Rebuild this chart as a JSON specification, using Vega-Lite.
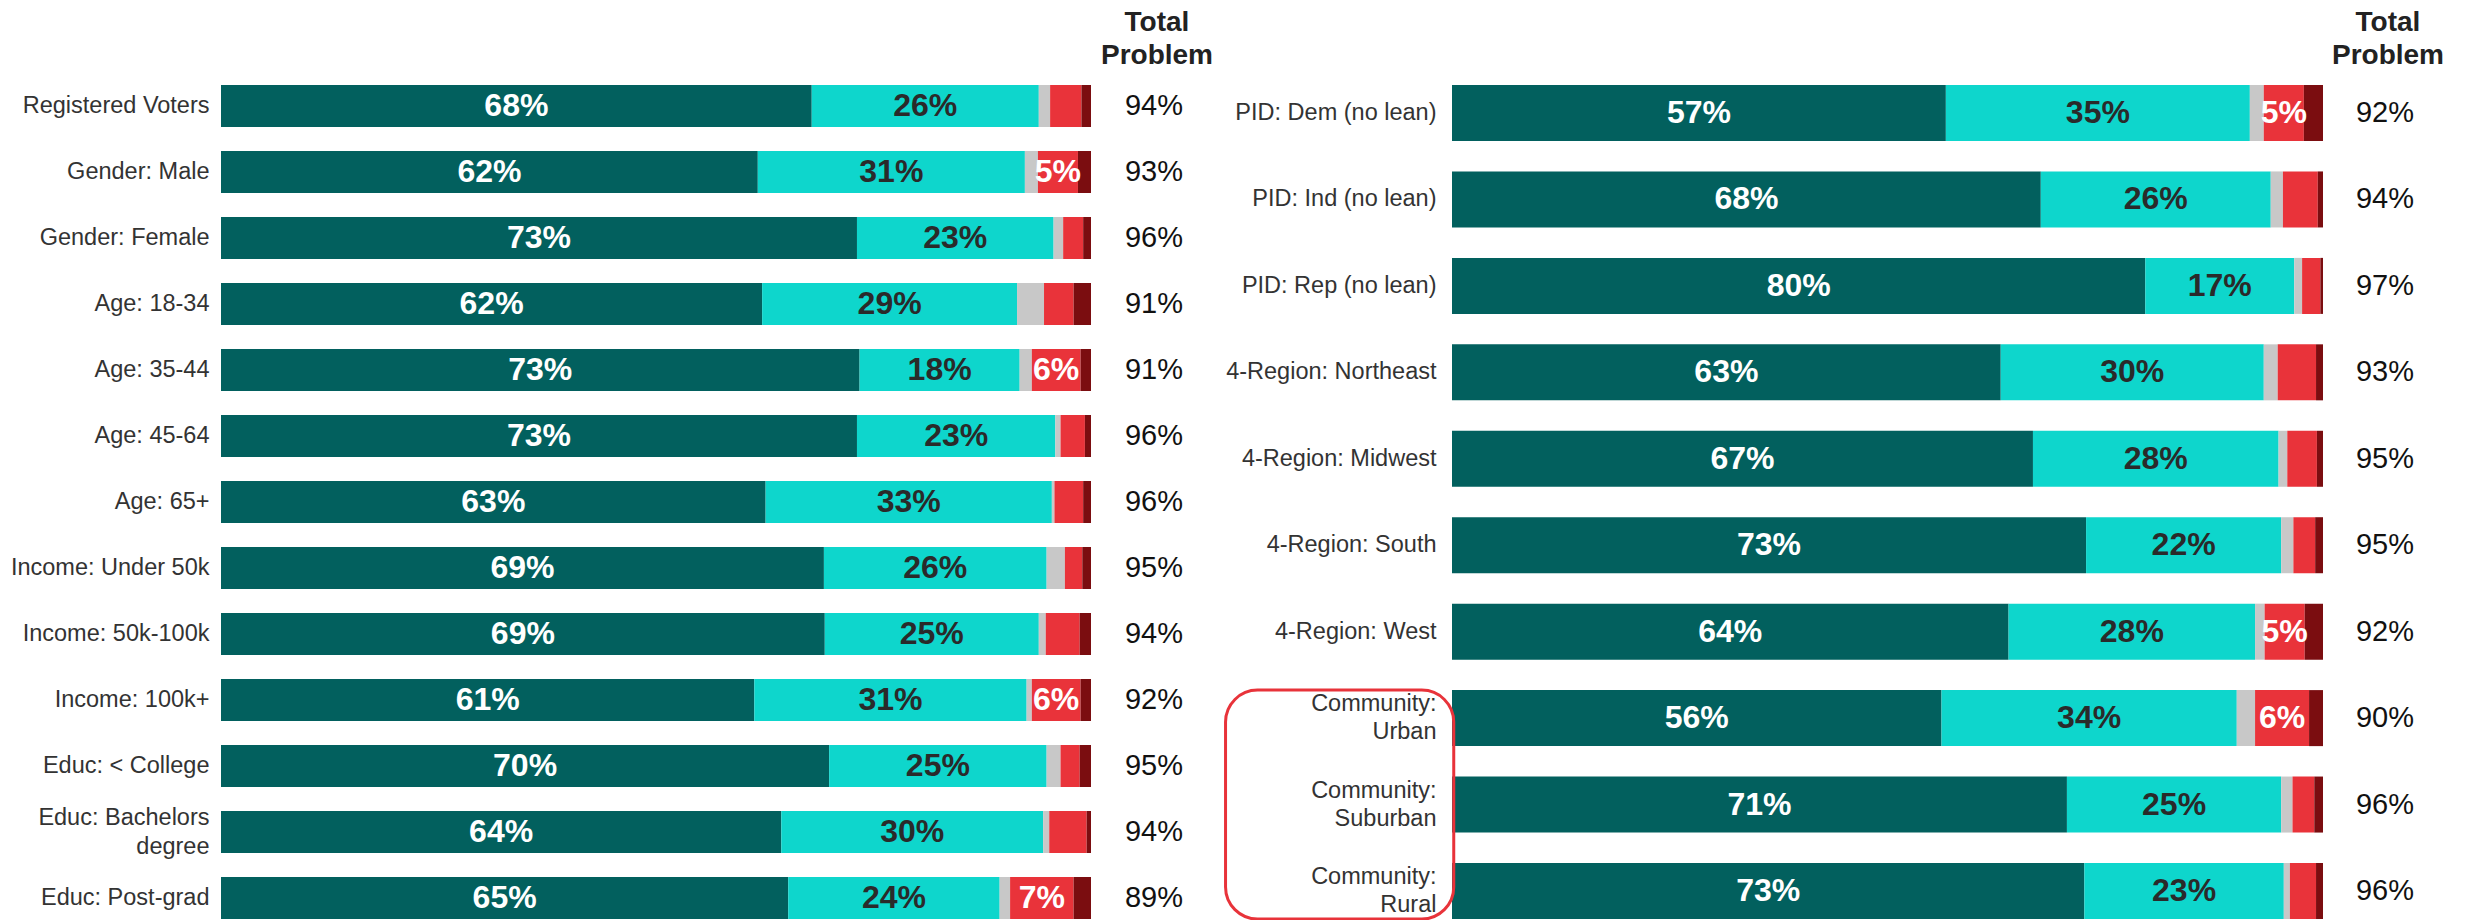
{
  "$schema": "https://vega.github.io/schema/vega-lite/v6.json",
  "padding": {"left": 10, "top": 9, "right": 0, "bottom": 0},
  "background": "white",
  "bounds": "flush",
  "spacing": 361,
  "config": {"view": {"stroke": null}, "font": "Liberation Sans", "axis": {"labelFont": "Liberation Sans"}},
  "datasets": {
    "left": [
      {"group": "Registered Voters", "Major problem": 67.9, "Minor problem": 26.1, "No opinion": 1.3, "Not a big problem": 3.6, "Not a problem at all": 1.1, "total": 94},
      {"group": "Gender: Male", "Major problem": 61.7, "Minor problem": 30.7, "No opinion": 1.5, "Not a big problem": 4.6, "Not a problem at all": 1.5, "total": 93},
      {"group": "Gender: Female", "Major problem": 73.1, "Minor problem": 22.6, "No opinion": 1.1, "Not a big problem": 2.3, "Not a problem at all": 0.9, "total": 96},
      {"group": "Age: 18-34", "Major problem": 62.2, "Minor problem": 29.3, "No opinion": 3.1, "Not a big problem": 3.4, "Not a problem at all": 2.0, "total": 91},
      {"group": "Age: 35-44", "Major problem": 73.4, "Minor problem": 18.4, "No opinion": 1.4, "Not a big problem": 5.6, "Not a problem at all": 1.2, "total": 91},
      {"group": "Age: 45-64", "Major problem": 73.1, "Minor problem": 22.8, "No opinion": 0.6, "Not a big problem": 2.8, "Not a problem at all": 0.7, "total": 96},
      {"group": "Age: 65+", "Major problem": 62.6, "Minor problem": 32.9, "No opinion": 0.3, "Not a big problem": 3.3, "Not a problem at all": 0.9, "total": 96},
      {"group": "Income: Under 50k", "Major problem": 69.3, "Minor problem": 25.6, "No opinion": 2.1, "Not a big problem": 2.0, "Not a problem at all": 1.0, "total": 95},
      {"group": "Income: 50k-100k", "Major problem": 69.4, "Minor problem": 24.6, "No opinion": 0.8, "Not a big problem": 3.9, "Not a problem at all": 1.3, "total": 94},
      {"group": "Income: 100k+", "Major problem": 61.3, "Minor problem": 31.3, "No opinion": 0.6, "Not a big problem": 5.6, "Not a problem at all": 1.2, "total": 92},
      {"group": "Educ: < College", "Major problem": 69.9, "Minor problem": 25.0, "No opinion": 1.6, "Not a big problem": 2.2, "Not a problem at all": 1.3, "total": 95},
      {"group": "Educ: Bachelors degree", "Major problem": 64.4, "Minor problem": 30.1, "No opinion": 0.7, "Not a big problem": 4.3, "Not a problem at all": 0.5, "total": 94},
      {"group": "Educ: Post-grad", "Major problem": 65.2, "Minor problem": 24.3, "No opinion": 1.2, "Not a big problem": 7.3, "Not a problem at all": 2.0, "total": 89}
    ],
    "right": [
      {"group": "PID: Dem (no lean)", "Major problem": 56.7, "Minor problem": 34.9, "No opinion": 1.6, "Not a big problem": 4.6, "Not a problem at all": 2.2, "total": 92},
      {"group": "PID: Ind (no lean)", "Major problem": 67.6, "Minor problem": 26.4, "No opinion": 1.4, "Not a big problem": 4.0, "Not a problem at all": 0.6, "total": 94},
      {"group": "PID: Rep (no lean)", "Major problem": 79.6, "Minor problem": 17.1, "No opinion": 0.9, "Not a big problem": 2.1, "Not a problem at all": 0.3, "total": 97},
      {"group": "4-Region: Northeast", "Major problem": 63.0, "Minor problem": 30.2, "No opinion": 1.6, "Not a big problem": 4.4, "Not a problem at all": 0.8, "total": 93},
      {"group": "4-Region: Midwest", "Major problem": 66.7, "Minor problem": 28.2, "No opinion": 1.0, "Not a big problem": 3.4, "Not a problem at all": 0.7, "total": 95},
      {"group": "4-Region: South", "Major problem": 72.8, "Minor problem": 22.4, "No opinion": 1.4, "Not a big problem": 2.5, "Not a problem at all": 0.9, "total": 95},
      {"group": "4-Region: West", "Major problem": 63.9, "Minor problem": 28.3, "No opinion": 1.1, "Not a big problem": 4.6, "Not a problem at all": 2.1, "total": 92},
      {"group": "Community: Urban", "Major problem": 56.2, "Minor problem": 33.9, "No opinion": 2.1, "Not a big problem": 6.2, "Not a problem at all": 1.6, "total": 90},
      {"group": "Community: Suburban", "Major problem": 70.6, "Minor problem": 24.6, "No opinion": 1.3, "Not a big problem": 2.5, "Not a problem at all": 1.0, "total": 96},
      {"group": "Community: Rural", "Major problem": 72.6, "Minor problem": 22.9, "No opinion": 0.7, "Not a big problem": 3.0, "Not a problem at all": 0.8, "total": 96}
    ]
  },
  "hconcat": [
    {
      "width": 870,
      "height": 834,
      "data": {"name": "left"},
      "title": {"text": ["Total", "Problem"], "anchor": "end", "align": "center", "dx": 66, "fontSize": 28, "fontWeight": "bold", "color": "#222222", "lineHeight": 33, "offset": 15, "frame": "group", "font": "Liberation Sans"},
      "transform": [
        {"fold": ["Major problem", "Minor problem", "No opinion", "Not a big problem", "Not a problem at all"], "as": ["key", "value"]},
        {"stack": "value", "groupby": ["group"], "sort": [{"field": "key", "order": "ascending"}], "as": ["x0", "x1"]},
        {"calculate": "(datum.x0 + datum.x1) / 2", "as": "mid"},
        {"calculate": "format(datum.value, '.0f') + '%'", "as": "lbl"},
        {"calculate": "datum.total + '%'", "as": "tlbl"}
      ],
      "encoding": {
        "y": {"field": "group", "type": "nominal", "sort": null, "title": null,
          "scale": {"paddingInner": 0.3636, "paddingOuter": 0},
          "axis": {"ticks": false, "domain": false, "labelFontSize": 23.5, "labelColor": "#333333", "labelPadding": 12, "labelLimit": 500, "labelLineHeight": 29,
            "labelOffset": {"condition": {"test": "datum.value == 'Educ: Bachelors degree'", "value": -14}, "value": 0},
            "labelExpr": "datum.value == 'Educ: Bachelors degree' ? ['Educ: Bachelors', 'degree'] : datum.value"}}
      },
      "layer": [
        {
          "mark": {"type": "bar"},
          "encoding": {
            "x": {"field": "x0", "type": "quantitative", "scale": {"domain": [0, 100], "nice": false, "zero": false}, "axis": null},
            "x2": {"field": "x1"},
            "color": {"field": "key", "type": "nominal", "legend": null,
              "scale": {"domain": ["Major problem", "Minor problem", "No opinion", "Not a big problem", "Not a problem at all"], "range": ["#02605E", "#0ED6CC", "#C8C8C8", "#E9333A", "#7B0D10"]}}
          }
        },
        {
          "transform": [{"filter": "datum.key == 'Major problem' || datum.key == 'Minor problem' || (datum.key == 'Not a big problem' && datum.value >= 4.5)"}],
          "mark": {"type": "text", "fontSize": 32, "fontWeight": "bold", "font": "Liberation Sans"},
          "encoding": {
            "x": {"field": "mid", "type": "quantitative", "scale": {"domain": [0, 100]}},
            "text": {"field": "lbl"},
            "color": {"condition": {"test": "datum.key == 'Minor problem'", "value": "#2A2A2A"}, "value": "#FFFFFF"}
          }
        },
        {
          "transform": [{"filter": "datum.key == 'Major problem'"}],
          "mark": {"type": "text", "fontSize": 29, "dx": 63, "align": "center", "color": "#111111", "font": "Liberation Sans"},
          "encoding": {
            "x": {"datum": 100, "type": "quantitative", "scale": {"domain": [0, 100]}},
            "text": {"field": "tlbl"}
          }
        }
      ]
    },
    {
      "width": 871,
      "height": 834,
      "title": {"text": ["Total", "Problem"], "anchor": "end", "align": "center", "dx": 65, "fontSize": 28, "fontWeight": "bold", "color": "#222222", "lineHeight": 33, "offset": 15, "frame": "group", "font": "Liberation Sans"},
      "encoding": {
        "y": {"field": "group", "type": "nominal", "sort": null, "title": null,
          "scale": {"paddingInner": 0.352, "paddingOuter": 0},
          "axis": {"ticks": false, "domain": false, "labelFontSize": 23.5, "labelColor": "#333333", "labelPadding": 16, "labelLimit": 500, "labelLineHeight": 28,
            "labelOffset": {"condition": {"test": "indexof(datum.value, 'Community: ') == 0", "value": -14}, "value": 0},
            "labelExpr": "indexof(datum.value, 'Community: ') == 0 ? ['Community:', substring(datum.value, 11)] : datum.value"}}
      },
      "layer": [
        {
          "data": {"name": "right"},
          "transform": [
            {"fold": ["Major problem", "Minor problem", "No opinion", "Not a big problem", "Not a problem at all"], "as": ["key", "value"]},
            {"stack": "value", "groupby": ["group"], "sort": [{"field": "key", "order": "ascending"}], "as": ["x0", "x1"]},
            {"calculate": "(datum.x0 + datum.x1) / 2", "as": "mid"},
            {"calculate": "format(datum.value, '.0f') + '%'", "as": "lbl"},
            {"calculate": "datum.total + '%'", "as": "tlbl"}
          ],
          "layer": [
            {
              "mark": {"type": "bar"},
              "encoding": {
                "x": {"field": "x0", "type": "quantitative", "scale": {"domain": [0, 100], "nice": false, "zero": false}, "axis": null},
                "x2": {"field": "x1"},
                "color": {"field": "key", "type": "nominal", "legend": null,
                  "scale": {"domain": ["Major problem", "Minor problem", "No opinion", "Not a big problem", "Not a problem at all"], "range": ["#02605E", "#0ED6CC", "#C8C8C8", "#E9333A", "#7B0D10"]}}
              }
            },
            {
              "transform": [{"filter": "datum.key == 'Major problem' || datum.key == 'Minor problem' || (datum.key == 'Not a big problem' && datum.value >= 4.5)"}],
              "mark": {"type": "text", "fontSize": 32, "fontWeight": "bold", "font": "Liberation Sans"},
              "encoding": {
                "x": {"field": "mid", "type": "quantitative", "scale": {"domain": [0, 100]}},
                "text": {"field": "lbl"},
                "color": {"condition": {"test": "datum.key == 'Minor problem'", "value": "#2A2A2A"}, "value": "#FFFFFF"}
              }
            },
            {
              "transform": [{"filter": "datum.key == 'Major problem'"}],
              "mark": {"type": "text", "fontSize": 29, "dx": 62, "align": "center", "color": "#111111", "font": "Liberation Sans"},
              "encoding": {
                "x": {"datum": 100, "type": "quantitative", "scale": {"domain": [0, 100]}},
                "text": {"field": "tlbl"}
              }
            }
          ]
        },
        {
          "data": {"values": [{"from": "Community: Urban", "to": "Community: Rural", "left": -26, "right": 0.2}]},
          "mark": {"type": "rect", "filled": false, "stroke": "#E8333A", "strokeWidth": 3, "cornerRadius": 32},
          "encoding": {
            "y": {"field": "from", "type": "nominal", "bandPosition": 0},
            "y2": {"field": "to", "bandPosition": 1},
            "x": {"field": "left", "type": "quantitative", "scale": {"domain": [0, 100]}},
            "x2": {"field": "right"}
          }
        }
      ]
    }
  ]
}
